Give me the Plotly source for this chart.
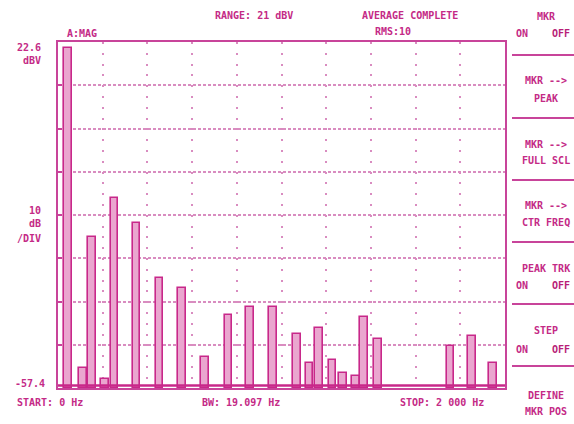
import plotly.graph_objects as go

# ---- data ----
peak_freq_hz = [45, 112, 152, 210, 251, 353, 456, 555, 658, 761, 859, 962,
                1069, 1127, 1168, 1230, 1275, 1333, 1369, 1432, 1758, 1852, 1946]
peak_level_dbv = [21.2, -52.8, -22.5, -55.3, -13.5, -19.2, -32.0, -34.3, -50.2, -40.5,
                  -38.7, -38.7, -44.9, -51.6, -43.5, -50.9, -53.9, -54.6, -41.0, -46.1,
                  -47.7, -45.4, -51.6]
floor_freq_hz = [0, 2000]
floor_level_dbv = [-56.8, -56.8]
y_top, y_bottom = 22.6, -57.4
x_start, x_stop = 0, 2000

menu_items = [("MKR", None), ("ON", "OFF"),
              ("MKR -->", None), ("PEAK", None),
              ("MKR -->", None), ("FULL SCL", None),
              ("MKR -->", None), ("CTR FREQ", None),
              ("PEAK TRK", None), ("ON", "OFF"),
              ("STEP", None), ("ON", "OFF"),
              ("DEFINE", None), ("MKR POS", None)]

# ---- style ----
TXT = "#c42a86"
LINE = "#c8449a"
GRID = "#d98cc0"
FILL = "#eaa6cf"
FONT = dict(family="DejaVu Sans Mono", size=10, color=TXT, weight="bold")

W, H = 574, 424
L, R, T, B = 58, 505, 42, 388


def px(x):
    return (x - L) / (R - L)


def py(y):
    return (B - y) / (B - T)


fig = go.Figure()
fig.add_trace(go.Bar(
    x=peak_freq_hz,
    y=[v - y_bottom for v in peak_level_dbv],
    base=y_bottom,
    width=32,
    marker=dict(color=FILL, line=dict(color="#c8288a", width=1.6)),
    hoverinfo="skip",
))
fig.add_trace(go.Scatter(
    x=floor_freq_hz, y=floor_level_dbv, mode="lines",
    line=dict(color="#c8288a", width=2.5), hoverinfo="skip",
))

ann = []


def text(x, y, s, anchor="left", color=TXT):
    f = dict(FONT)
    f["color"] = color
    ann.append(dict(x=px(x), y=py(y), xref="paper", yref="paper", text=s,
                    showarrow=False, xanchor=anchor, yanchor="middle", font=f))


text(213, 15, "RANGE: 21 dBV")
text(360, 15, "AVERAGE COMPLETE")
text(393, 31, "RMS:10", "center")
text(65, 33, "A:MAG")
text(43, 47, "22.6", "right")
text(43, 60, "dBV", "right")
text(43, 210, "10", "right")
text(43, 223, "dB", "right")
text(43, 238, "/DIV", "right")
text(47, 383, "-57.4", "right")
text(15, 402, "START: 0 Hz")
text(200, 402, "BW: 19.097 Hz")
text(398, 402, "STOP: 2 000 Hz")

menu_y = [17, 33, 80, 99, 144, 160, 205, 222, 268, 285, 330, 349, 395, 411]
for (a, b), yy in zip(menu_items, menu_y):
    if b is None:
        text(546, yy, a, "center")
    else:
        text(514, yy, a, "left")
        text(572, yy, b, "right", color="#b81e78")

shapes = []
for yy in [55, 118, 180, 242, 304, 366]:
    shapes.append(dict(type="line", xref="paper", yref="paper",
                       x0=px(512), x1=px(574), y0=py(yy), y1=py(yy),
                       line=dict(color=LINE, width=2)))

fig.update_layout(
    width=W, height=H,
    margin=dict(l=L, r=W - R, t=T, b=H - B, pad=0),
    paper_bgcolor="white", plot_bgcolor="white",
    showlegend=False, bargap=0,
    annotations=ann, shapes=shapes,
    xaxis=dict(range=[x_start, x_stop], dtick=200, showticklabels=False,
               showgrid=True, gridcolor=GRID, gridwidth=1.5, griddash="2px,8.8px",
               showline=True, mirror=True, linecolor=LINE, linewidth=2,
               zeroline=False, ticks=""),
    yaxis=dict(range=[y_bottom, y_top], dtick=10, tick0=y_bottom,
               showticklabels=False,
               showgrid=True, gridcolor=GRID, gridwidth=2, griddash="3px,2px",
               showline=True, mirror=True, linecolor=LINE, linewidth=2,
               zeroline=False, ticks="inside", ticklen=4, tickcolor=LINE, tickwidth=2),
)

fig.write_html(
    "out.html",
    config={"displayModeBar": False},
    post_script="document.body.style.margin='0';document.body.style.overflow='hidden';",
)
